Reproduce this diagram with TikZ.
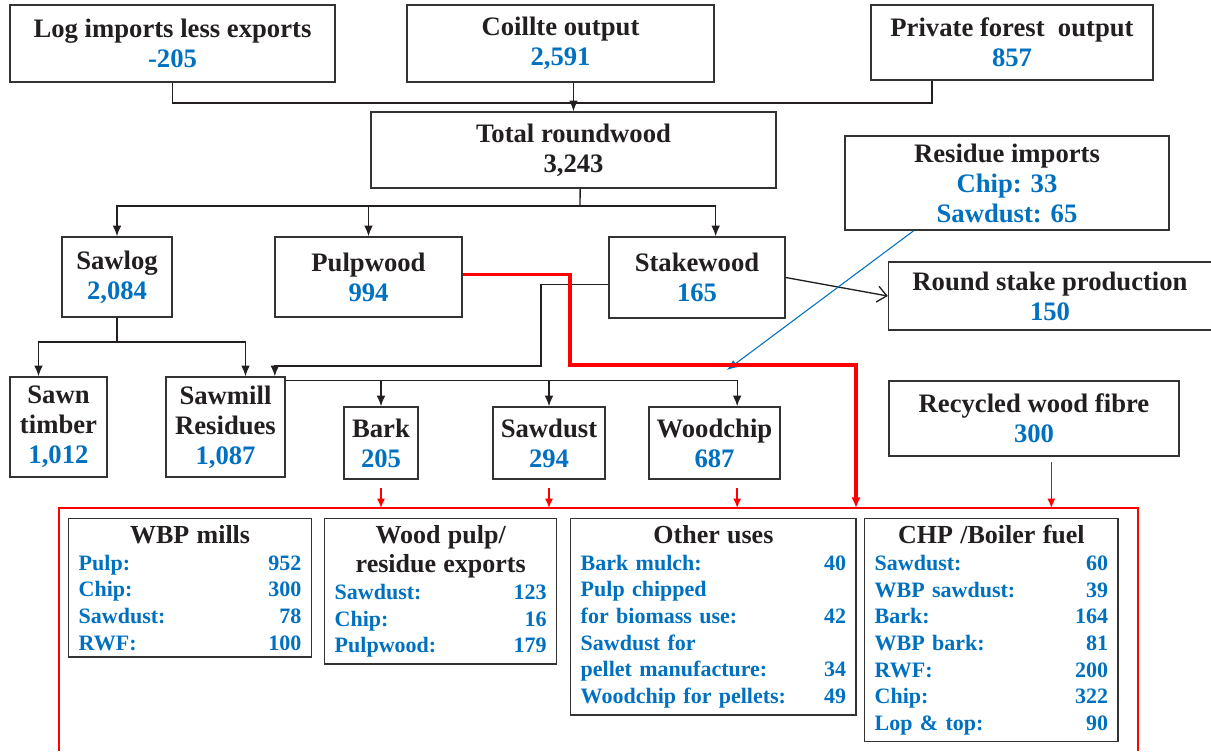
\documentclass[tikz,border=0pt]{standalone}
\usepackage{fontspec}
\setmainfont{Liberation Serif}
\usetikzlibrary{arrows.meta,positioning}
\definecolor{ink}{HTML}{231F20}
\definecolor{figblue}{HTML}{0070C0}
\definecolor{edge}{HTML}{333333}
\definecolor{flowred}{HTML}{FF0000}
\newcommand{\amt}[1]{{\color{figblue}#1}}
\newcommand{\itm}[2]{\makebox[\hsize]{#1\hfill#2}}
\newcommand{\hd}[1]{\makebox[\hsize]{\color{ink}\fontsize{19.5}{22}\selectfont#1}}

\begin{document}
\begin{tikzpicture}[x=0.75pt,y=-0.75pt,
    box/.style={draw=edge,line width=1.1pt,fill=white,align=center,inner sep=0pt,
        font=\fontsize{20}{22.5}\selectfont\bfseries,text=ink},
    boxsize/.style 2 args={minimum width=#1*0.75pt,minimum height=#2*0.75pt},
    outbox/.style={draw=edge,line width=1.1pt,fill=white,align=left,anchor=north west,
        inner xsep=7.5pt,inner ysep=5pt,text=figblue,
        font=\fontsize{16.5}{20}\selectfont\bfseries},
    link/.style={draw=ink,line width=1pt},
    arr/.style={link,-{Latex[length=8pt,width=6.5pt]}},
    imp/.style={draw=figblue,line width=0.8pt,-{Latex[length=8pt,width=6.5pt]}},
    bigflow/.style={draw=flowred,line width=2.6pt,-{Latex[length=8pt,width=7pt]}},
    smallflow/.style={draw=flowred,line width=1.1pt,-{Latex[length=7pt,width=6pt]}},
    frame/.style={draw=flowred,line width=1.5pt}]
  \useasboundingbox (0,0) rectangle (1211,751);

  % sources
  \node[box,boxsize={325}{77}] (logimp) at (172.5,43.5) {Log imports less exports\\\amt{-205}};
  \node[box,boxsize={307}{77}] (coillte) at (560.5,43.5) {Coillte output\\\amt{2,591}};
  \node[box,boxsize={282}{75}] (private) at (1012,42.5) {Private forest\ \ output\\\amt{857}};
  \node[box,boxsize={405}{76}] (total) at (573.5,150) {Total roundwood\\3,243};
  \node[box,boxsize={324}{94}] (resimp) at (1007,183)
    {Residue imports\\\amt{Chip: 33}\\\amt{Sawdust: 65}};

  % roundwood split
  \node[box,boxsize={110}{80}] (sawlog) at (117,277) {Sawlog\\\amt{2,084}};
  \node[box,boxsize={187}{80}] (pulp) at (368.5,277) {Pulpwood\\\amt{994}};
  \node[box,boxsize={176}{81}] (stake) at (697,277.5) {Stakewood\\\amt{165}};
  \node[box,boxsize={323}{68}] (rstake) at (1050,296) {Round stake production\\\amt{150}};

  % sawmill products
  \node[box,boxsize={97}{100}] (sawn) at (58.5,427) {Sawn\\timber\\\amt{1,012}};
  \node[box,boxsize={119}{100}] (sawmill) at (225.5,427) {Sawmill\\Residues\\\amt{1,087}};
  \node[box,boxsize={74}{72}] (bark) at (381,443) {Bark\\\amt{205}};
  \node[box,boxsize={112}{72}] (sawdust) at (549,443) {Sawdust\\\amt{294}};
  \node[box,boxsize={131}{72}] (woodchip) at (714.5,443) {Woodchip\\\amt{687}};
  \node[box,boxsize={290}{75}] (rwf) at (1034,418.5) {Recycled wood fibre\\\amt{300}};

  % end uses
  \node[outbox,text width=167pt] (wbp) at (68,518)
    {\hd{WBP mills}\\\itm{Pulp:}{952}\\\itm{Chip:}{300}\\\itm{Sawdust:}{78}\\\itm{RWF:}{100}};
  \node[outbox,text width=159pt] (wpexp) at (324,518)
    {\hd{Wood pulp/}\\[2pt]\hd{residue exports}\\\itm{Sawdust:}{123}\\\itm{Chip:}{16}\\\itm{Pulpwood:}{179}};
  \node[outbox,text width=199pt] (other) at (570,518)
    {\hd{Other uses}\\\itm{Bark mulch:}{40}\\\itm{Pulp chipped}{}\\\itm{for biomass use:}{42}\\
     \itm{Sawdust for}{}\\\itm{pellet manufacture:}{34}\\\itm{Woodchip for pellets:}{49}};
  \node[outbox,text width=175pt] (chp) at (864,518)
    {\hd{CHP /Boiler fuel}\\\itm{Sawdust:}{60}\\\itm{WBP sawdust:}{39}\\\itm{Bark:}{164}\\
     \itm{WBP bark:}{81}\\\itm{RWF:}{200}\\\itm{Chip:}{322}\\\itm{Lop \& top:}{90}};

  \coordinate (feed) at (573.5,103);
  \coordinate (split) at (580,206);
  \coordinate (sawsplit) at (117,342);
  \coordinate (stakebend) at (541,366);
  \coordinate (chipin) at (727,370);
  \coordinate (pulpbend) at (570,365);
  \coordinate (pulpin) at (856,508);
  \coordinate (frame nw) at (59,508);
  \coordinate (frame ne) at (1138,508);
  \coordinate (frame sw) at (59,751);
  \coordinate (frame se) at (1138,751);

  \draw[link] (logimp.south) |- (feed) -| ([xshift=-60pt]private.south);
  \draw[arr] (coillte.south -| total.north) -- (total.north);
  \draw[link] ([xshift=5pt]total.south) -- (split);
  \foreach \n/\dx in {sawlog/0,pulp/0,stake/14}
    \draw[arr] (split) -| ([xshift=\dx pt]\n.north);
  \draw[link] (sawlog.south) -- (sawsplit);
  \draw[arr] (sawsplit) -| ([xshift=-15pt]sawn.north);
  \draw[arr] (sawsplit) -| ([xshift=15pt]sawmill.north);
  \draw[arr] ([yshift=-5pt]stake.west) -| (stakebend) -| ([xshift=37pt]sawmill.north);
  \foreach \n/\dx in {bark/0,sawdust/0,woodchip/17}
    \draw[arr] ([yshift=-3pt]sawmill.north east) -| ([xshift=\dx pt]\n.north);
  \draw[link,-{Straight Barb[length=7pt,width=12pt]}] (stake.east) -- (rstake.west);
  \draw[imp] ([xshift=-70pt]resimp.south) -- (chipin);

  % flows into end uses
  \draw[frame] (frame sw) -- (frame nw) -- (frame ne) -- (frame se);
  \draw[bigflow] ([yshift=2pt]pulp.east) -| (pulpbend) -| (pulpin);
  \foreach \n/\dx in {bark/0,sawdust/0,woodchip/17}
    \draw[smallflow,shorten <=6pt] ([xshift=\dx pt]\n.south) -- ([xshift=\dx pt]\n.south |- frame nw);
  \draw[smallflow,shorten <=4pt] ([xshift=13pt]rwf.south) -- ([xshift=13pt]rwf.south |- frame nw);
\end{tikzpicture}
\end{document}
